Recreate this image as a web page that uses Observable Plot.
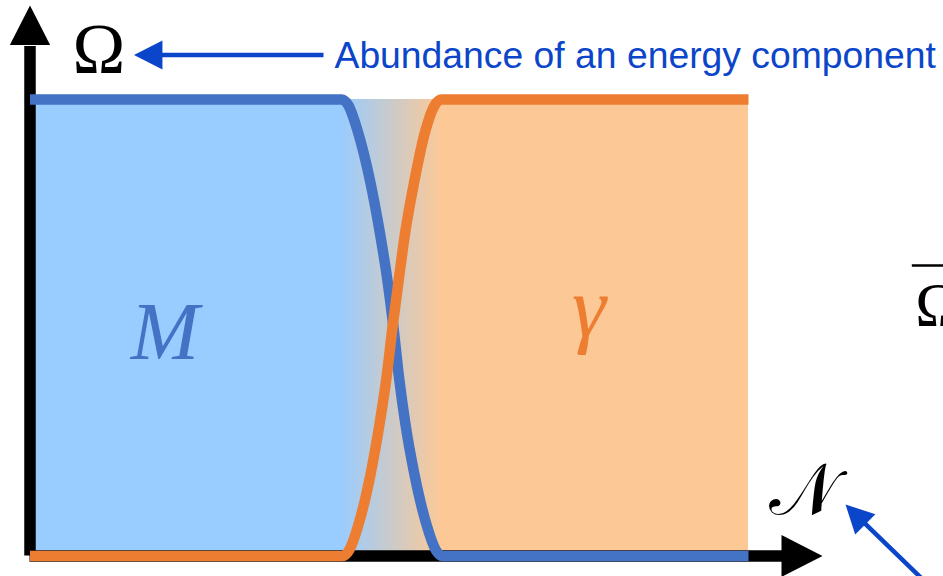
<!DOCTYPE html>
<html><head><meta charset="utf-8">
<script src="https://cdn.jsdelivr.net/npm/d3@7"></script>
<script src="https://cdn.jsdelivr.net/npm/@observablehq/plot@0.6"></script>
<style>html,body{margin:0;padding:0;background:#fff;overflow:hidden}</style>
</head><body><div id="chart"></div>
<script>
// ---- data (N: e-folds in arbitrary units, Omega: abundance 0..1) ----
const matterN      = [0, 43.35, 44.33, 45.58, 47.32, 48.64, 49.69, 50.59, 51.36, 52.26, 53.51, 55.18, 56.44, 57.41, 100];
const matterOmega  = [1, 1, 0.9869, 0.9321, 0.8226, 0.7130, 0.6101, 0.5005, 0.3910, 0.2881, 0.1786, 0.0690, 0.0142, 0, 0];
const radiationN     = [0, 43.49, 44.47, 45.72, 47.39, 48.64, 49.62, 50.45, 51.36, 52.26, 53.51, 55.04, 56.30, 57.27, 100];
const radiationOmega = [0, 0, 0.0142, 0.0690, 0.1786, 0.2881, 0.3910, 0.5005, 0.6101, 0.7130, 0.8226, 0.9321, 0.9869, 1, 1];

// background regions: matter era, transition, radiation era
const regionStart = [0, 43.35, 57.27];
const regionEnd   = [43.35, 57.27, 100];

// axes extents
const axisTopOmega = [1.116];
const axisTipOmega = [1.206];
const axisEndN = [105.1];
const axisTipN = [110.3];

// annotations
const labelNames  = ["Ω", "Abundance of an energy component", "M", "γ", "𝒩", "Ω"];
const labelN      = [9.6, 42.38, 18.79, 77.8, 107.6, 123.2];
const labelOmega  = [1.059, 1.0685, 0.432, 0.481, 0.092, 0.505];
const overbarN = [122.8, 130];
const overbarOmega = [0.6364];

const pointerTipN = [14.47, 113.5];
const pointerTipOmega = [1.0975, 0.1128];
const pointerTailN = [40.85, 126.0];
const pointerTailOmega = [1.0975, -0.078];
const pointerBaseN = [17.0, 115.9];
const pointerBaseOmega = [1.0975, 0.0756];

// ---- tables ----
const matter = matterN.map((n, i) => ({N: n, Omega: matterOmega[i]}));
const radiation = radiationN.map((n, i) => ({N: n, Omega: radiationOmega[i]}));
const regions = regionStart.map((s, i) => ({x1: s, x2: regionEnd[i], y1: 0, y2: 1}));
const labels = labelNames.map((t, i) => ({text: t, N: labelN[i], Omega: labelOmega[i]}));
const pointers = pointerTipN.map((n, i) => ({tipN: n, tipO: pointerTipOmega[i], baseN: pointerBaseN[i], baseO: pointerBaseOmega[i], tailN: pointerTailN[i], tailO: pointerTailOmega[i]}));

// filled arrowhead symbol, tip at origin pointing up
const arrowHead = {
  draw(ctx, size) {
    const h = Math.sqrt(size / Math.PI);
    const w = h * 0.51;
    ctx.moveTo(0, 0);
    ctx.lineTo(w, h);
    ctx.lineTo(-w, h);
    ctx.closePath();
  }
};

const BLUE = "#4472C4", ORANGE = "#ED7D31", NOTE = "#0B45C9";
const serif = "Liberation Serif, DejaVu Serif, serif";

const svg = Plot.plot({
  width: 943, height: 576,
  marginTop: 0, marginRight: 0, marginBottom: 0, marginLeft: 0,
  x: {type: "linear", domain: [0, 100], range: [29.5, 748], axis: null},
  y: {type: "linear", domain: [0, 1], range: [555.5, 99], axis: null},
  style: {background: "#fff", overflow: "hidden"},
  marks: [
    Plot.rect([regions[0]], {x1: "x1", x2: "x2", y1: "y1", y2: "y2", fill: "#99CCFF"}),
    Plot.rect([regions[1]], {x1: "x1", x2: "x2", y1: "y1", y2: "y2", fill: "url(#mr-fade)"}),
    Plot.rect([regions[2]], {x1: "x1", x2: "x2", y1: "y1", y2: "y2", fill: "#FCC996"}),
    // axes
    Plot.ruleX([0], {x: d => d, y1: 0, y2: axisTopOmega[0], stroke: "black", strokeWidth: 11.5}),
    Plot.ruleY([0], {y: d => d, x1: 0, x2: axisEndN[0], stroke: "black", strokeWidth: 11.5}),
    Plot.dot([0], {x: 0, y: axisTipOmega[0], symbol: arrowHead, r: 39.5, fill: "black", stroke: "none"}),
    Plot.dot([0], {x: axisTipN[0], y: 0, symbol: arrowHead, r: 41, rotate: 90, fill: "black", stroke: "none"}),
    // curves
    Plot.line(matter, {x: "N", y: "Omega", stroke: BLUE, strokeWidth: 10.5, curve: "monotone-x", strokeLinecap: "butt", strokeLinejoin: "round"}),
    Plot.line(radiation, {x: "N", y: "Omega", stroke: ORANGE, strokeWidth: 10.5, curve: "monotone-x", strokeLinecap: "butt", strokeLinejoin: "round"}),
    // labels
    Plot.text([labels[0]], {x: "N", y: "Omega", text: "text", fontFamily: serif, fontSize: 71, textAnchor: "middle", lineAnchor: "bottom", fill: "black"}),
    Plot.text([labels[1]], {x: "N", y: "Omega", text: "text", fontFamily: "Liberation Sans, Arial, sans-serif", fontSize: 37.3, textAnchor: "start", lineAnchor: "bottom", fill: NOTE}),
    Plot.text([labels[2]], {x: "N", y: "Omega", text: "text", fontFamily: serif, fontStyle: "italic", fontSize: 82, textAnchor: "middle", lineAnchor: "bottom", fill: BLUE}),
    Plot.text([labels[3]], {x: "N", y: "Omega", text: "text", fontFamily: serif, fontStyle: "italic", fontSize: 86, textAnchor: "middle", lineAnchor: "bottom", fill: ORANGE}),
    Plot.text([labels[4]], {x: "N", y: "Omega", text: "text", fontFamily: "DejaVu Serif, serif", fontSize: 72, textAnchor: "middle", lineAnchor: "bottom", fill: "black"}),
    Plot.text([labels[5]], {x: "N", y: "Omega", text: "text", fontFamily: serif, fontSize: 62, textAnchor: "start", lineAnchor: "bottom", fill: "black"}),
    Plot.ruleY(overbarOmega, {y: d => d, x1: overbarN[0], x2: overbarN[1], stroke: "black", strokeWidth: 2.5}),
    // pointers
    Plot.link(pointers, {x1: "baseN", y1: "baseO", x2: "tailN", y2: "tailO", stroke: NOTE, strokeWidth: 4.5}),
    Plot.dot([pointers[0]], {x: "tipN", y: "tipO", symbol: arrowHead, r: 28.5, rotate: -90, fill: NOTE, stroke: "none"}),
    Plot.dot([pointers[1]], {x: "tipN", y: "tipO", symbol: arrowHead, r: 28, rotate: -45, fill: NOTE, stroke: "none"})
  ]
});

// gradient for transition region
const ns = "http://www.w3.org/2000/svg";
const defs = document.createElementNS(ns, "defs");
const grad = document.createElementNS(ns, "linearGradient");
grad.setAttribute("id", "mr-fade");
grad.setAttribute("x1", "0"); grad.setAttribute("x2", "1");
grad.setAttribute("y1", "0"); grad.setAttribute("y2", "0");
[["0", "#99CCFF"], ["1", "#FCC996"]].forEach(([o, c]) => {
  const s = document.createElementNS(ns, "stop");
  s.setAttribute("offset", o); s.setAttribute("stop-color", c);
  grad.appendChild(s);
});
defs.appendChild(grad);
svg.insertBefore(defs, svg.firstChild);

document.getElementById("chart").appendChild(svg);
</script>
</body></html>
